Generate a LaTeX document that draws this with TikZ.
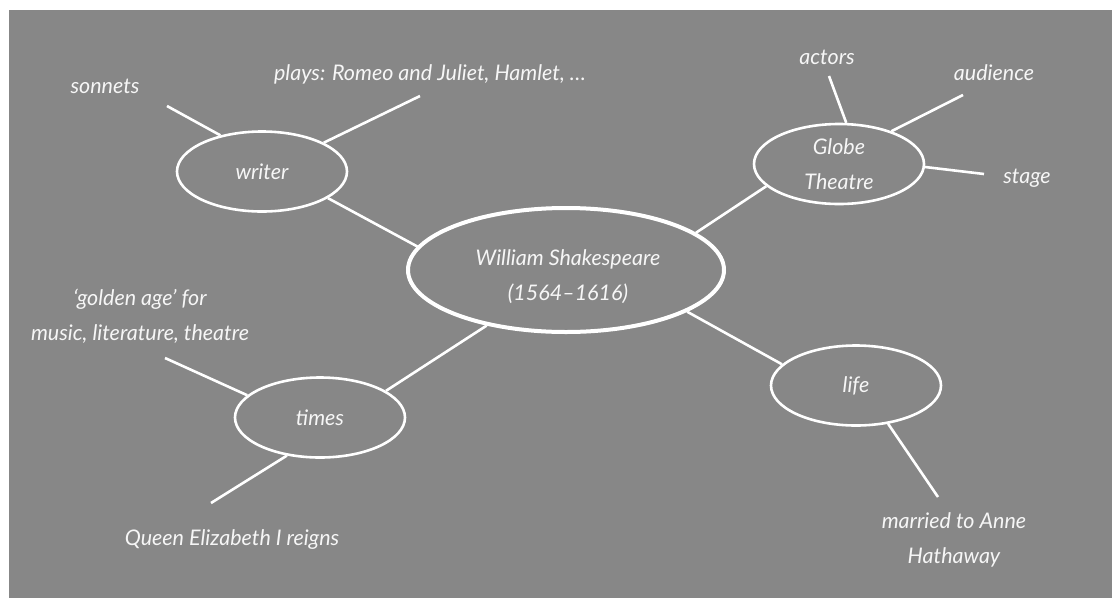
\documentclass[tikz,border=0pt]{standalone}
\usepackage{fontspec}
\setmainfont{Lato}
\usetikzlibrary{shapes.geometric}
\definecolor{bggray}{RGB}{135,135,135}
\definecolor{inkwhite}{RGB}{246,246,246}
\tikzset{
  txt/.style={text=inkwhite, font=\fontsize{21.5}{35}\selectfont\itshape, align=center, inner sep=0pt},
  hub/.style={ellipse, draw=white, line width=2.6pt, inner sep=0pt, minimum width=170pt, minimum height=80pt, txt},
  mainhub/.style={hub, line width=4pt, minimum width=316pt, minimum height=124pt},
  link/.style={draw=white, line width=2.6pt}
}
\begin{document}
\begin{tikzpicture}[x=1pt,y=-1pt]
\useasboundingbox (0,0) rectangle (1112,598);
\fill[bggray] (9,10) rectangle (1112,598);

% hubs
\node[mainhub] (C) at (566,270) {};
\node[txt] (Ctext) at (568,276.5) {William Shakespeare\\(1564--1616)};
\node[hub] (W) at (262,171.5) {writer};
\node[hub] (G) at (839,164) {Globe\\Theatre};
\node[hub] (T) at (320,417.5) {times};
\node[hub] (L) at (856,385.5) {life};

% leaf texts
\node[txt] (sonnets) at (105,86) {sonnets};
\node[txt] (plays) at (430,74) {plays: Romeo and Juliet, Hamlet, \dots};
\node[txt] (actors) at (827,57) {actors};
\node[txt] (audience) at (994,73) {audience};
\node[txt] (stage) at (1027,178) {stage};
\node[txt] (golden) at (140,316) {`golden age' for\\music, literature, theatre};
\node[txt] (queen) at (232,540) {Queen Elizabeth I reigns};
\node[txt] (married) at (954,540) {married to Anne\\Hathaway};

% free ends of leaf connectors
\coordinate (sE) at (167,106);
\coordinate (pE) at (420,96);
\coordinate (aE) at (829,76);
\coordinate (auE) at (963,95);
\coordinate (stE) at (984,174);
\coordinate (gE) at (165,358);
\coordinate (qE) at (211,503);
\coordinate (mE) at (938,497);

% hub to centre
\draw[link] (W.-22.6) -- (C.171.7);
\draw[link] (G.-163.7) -- (C.16.2);
\draw[link] (T.22.3) -- (C.-145);
\draw[link] (L.164.5) -- (C.-19.2);

% leaves
\draw[link] (sE) -- (W.139.8);
\draw[link] (pE) -- (W.25.8);
\draw[link] (aE) -- (G.80.3);
\draw[link] (auE) -- (G.32.2);
\draw[link] (stE) -- (G.-2);
\draw[link] (gE) -- (T.163.6);
\draw[link] (qE) -- (T.-131.5);
\draw[link] (mE) -- (L.-50.3);
\end{tikzpicture}
\end{document}
